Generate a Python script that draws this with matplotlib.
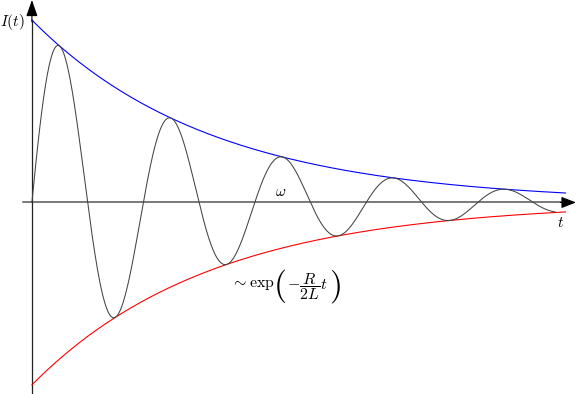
"""Damped oscillation I(t) with its exponential envelope."""

import matplotlib

matplotlib.use("Agg")
import matplotlib.pyplot as plt
import numpy as np

plt.rcParams["mathtext.fontset"] = "cm"
plt.rcParams["font.family"] = "serif"
plt.rcParams["font.serif"] = ["DejaVu Serif"]

# parameters (t in arbitrary units)
amplitude = 1.0
decay = 0.29          # R / 2L
omega = 2.95          # angular frequency
t_curve_end = 10.0
t_env_end = 10.2

x_range = [-0.61, 10.40]
y_range = [-1.05, 1.11]

label_omega = r"$\omega$"
label_env = [r"$\sim \exp$", r"$($", r"$-\dfrac{R}{2L}t$", r"$)$"]
label_x = r"$t$"
label_y = r"$I(t)$"

t = np.linspace(0, t_curve_end, 1200)
t_env = np.linspace(0, t_env_end, 600)
current = amplitude * np.exp(-decay * t) * np.sin(omega * t)
envelope = amplitude * np.exp(-decay * t_env)

fig = plt.figure(figsize=(5.76, 3.94), dpi=100)
ax = fig.add_axes([0, 0, 1, 1])
ax.set_xlim(x_range)
ax.set_ylim(y_range)
ax.axis("off")

# axes with arrow heads
ax.plot([-0.17, 10.15], [0, 0], color="#555555", lw=1.1, zorder=1)
ax.annotate("", xy=(10.40, 0), xytext=(10.1, 0),
            arrowprops=dict(arrowstyle="-|>,head_length=0.9,head_width=0.35",
                            color="black", lw=0.8, shrinkA=0, shrinkB=0))
ax.plot([0, 0], [-1.045, 1.0], color="#222222", lw=0.9, zorder=1)
ax.annotate("", xy=(0, 1.11), xytext=(0, 0.99),
            arrowprops=dict(arrowstyle="-|>,head_length=1.0,head_width=0.35",
                            color="black", lw=0.8, shrinkA=0, shrinkB=0))

ax.plot(t_env, envelope, color="blue", lw=0.8, zorder=2)
ax.plot(t_env, -envelope, color="red", lw=0.8, zorder=2)
ax.plot(t, current, color="#444444", lw=0.75, zorder=3)

ax.text(4.76, 0.055, label_omega, fontsize=11, ha="center", va="center")
env_x = [4.22, 4.74, 5.27, 5.80]
env_size = [11.5, 24, 11.5, 24]
for s, x, fs in zip(label_env, env_x, env_size):
    ax.text(x, -0.43, s, fontsize=fs, ha="center", va="center_baseline")
ax.text(10.1, -0.11, label_x, fontsize=11, ha="center", va="center")
ax.text(-0.38, 0.99, label_y, fontsize=11, ha="center", va="center")

fig.savefig("out.png", dpi=100)
plt.close(fig)
